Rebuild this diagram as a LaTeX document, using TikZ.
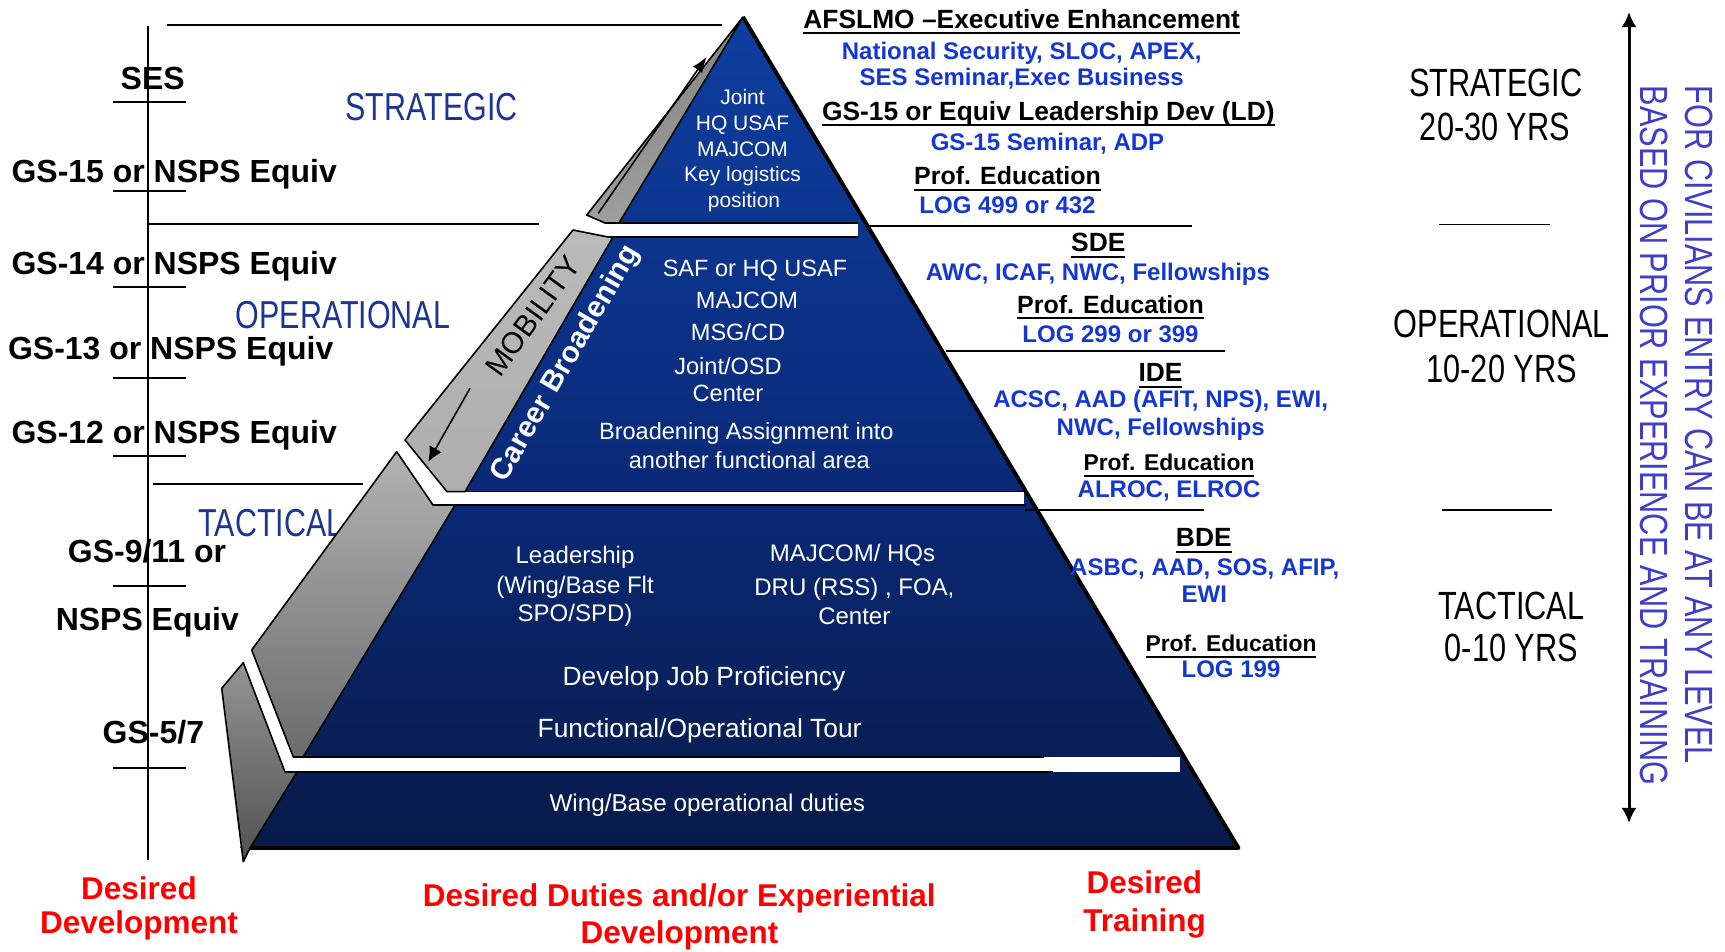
\documentclass[tikz,border=0pt]{standalone}
\usepackage{fontspec}
\setmainfont{Liberation Sans}
\newfontfamily\narrowfont[FakeStretch=0.78]{Liberation Sans}
\usetikzlibrary{arrows.meta}

\definecolor{pyrtop}{RGB}{14,62,160}
\definecolor{pyrmid}{RGB}{10,44,125}
\definecolor{pyrbot}{RGB}{8,26,74}
\definecolor{levelblue}{RGB}{28,52,146}
\definecolor{courseblue}{RGB}{20,55,210}
\definecolor{entryblue}{RGB}{62,62,200}
\definecolor{desiredred}{RGB}{255,0,0}

% underlined course headings
\newsavebox{\headbox}
\newcommand{\headrule}[1]{\sbox\headbox{#1}\rlap{\rule[-1.7pt]{\wd\headbox}{0.55pt}}\usebox\headbox}

\begin{document}
\begin{tikzpicture}[x=0.1mm, y=-0.1mm,
    rule/.style={line width=0.55pt},
    tierline/.style={line width=0.45pt},
    sideface/.style={draw=black, line width=0.45pt, line join=round},
    grade/.style={anchor=base, inner sep=0pt,
      font=\fontsize{9.1}{11}\selectfont\bfseries},
    level/.style={anchor=base, inner sep=0pt, text=levelblue,
      font=\narrowfont\fontsize{11.1}{13}\selectfont},
    span/.style={anchor=base, inner sep=0pt,
      font=\narrowfont\fontsize{11.2}{13}\selectfont},
    duty/.style={anchor=base, inner sep=0pt, text=white,
      font=\fontsize{#1}{10}\selectfont},
    course/.style={anchor=base, inner sep=0pt, text=courseblue,
      font=\fontsize{6.83}{8}\selectfont\bfseries},
    coursehead/.style={anchor=base, inner sep=0pt,
      font=\fontsize{#1}{9}\selectfont\bfseries},
    coursehead/.default=7.5,
    desired/.style={anchor=base, inner sep=0pt, text=desiredred,
      font=\fontsize{8.96}{11}\selectfont\bfseries}]

    \path [use as bounding box] (0,0) rectangle (1725,952);

    % grade scale on the left
    \draw[rule] (148,26) -- (148,860);
    \draw[rule] (167,25) -- (722,25);
    \draw[rule] (148,224.3) -- (539,224.3);
    \draw[rule] (153,484) -- (362.8,484);
    \draw[rule] (113,102.3) -- (186,102.3);
    \draw[rule] (113,190.7) -- (186,190.7);
    \draw[rule] (113,286.7) -- (186,286.7);
    \draw[rule] (113,378.3) -- (186,378.3);
    \draw[rule] (113,455.7) -- (186,455.7);
    \draw[rule] (113,585.7) -- (186,585.7);
    \draw[rule] (113,768.3) -- (186,768.3);

    \node[name=ses, grade] at (152.7,90) {SES};
    \node[name=gs15, grade] at (174.2,182.7) {GS-15 or NSPS Equiv};
    \node[name=gs14, grade] at (174.2,274) {GS-14 or NSPS Equiv};
    \node[name=gs13, grade] at (170.7,359) {GS-13 or NSPS Equiv};
    \node[name=gs12, grade] at (174.2,443.3) {GS-12 or NSPS Equiv};
    \node[name=gs9, grade] at (147,562.7) {GS-9/11 or};
    \node[name=gs9nsps, grade] at (147.3,630) {NSPS Equiv};
    \node[name=gs5, grade] at (153.4,743.3) {GS-5/7};

    \node[name=lvlstrat, level] at (431.5,120) {STRATEGIC};
    \node[name=lvlops, level] at (343,328.3) {OPERATIONAL};
    \node[name=lvltac, level] at (271,536) {TACTICAL};

    % pyramid body
    \shade[top color=pyrtop, bottom color=pyrbot, middle color=pyrmid]
      (743,17) -- (1238.5,848) -- (240,848) -- cycle;

    % gaps between the tiers
    \fill[white] (600,223) rectangle (858,237);
    \fill[white] (440,491.7) rectangle (1024,505);
    \fill[white] (285,757) rectangle (1180,772);
    \draw[tierline] (605,223) -- (858,223);
    \draw[tierline] (608,237) -- (858,237);
    \draw[tierline] (447,491.7) -- (1024,491.7);
    \draw[tierline] (433,505) -- (1026,505);
    \draw[tierline] (293.3,757) -- (1044,757);
    \draw[tierline] (285,772) -- (1053,772);

    % side faces
    \shadedraw[sideface, top color=black!48, bottom color=black!38]
      (743,17) -- (586.7,215) -- (605,223) -- (619,223) -- cycle;
    \shadedraw[sideface, top color=black!27, bottom color=black!32]
      (573,230) -- (608,237) -- (613,237) -- (465,491.7)
      -- (447,491.7) -- (405,440) -- cycle;
    \shadedraw[sideface, top color=black!30, bottom color=black!58]
      (396.7,451.7) -- (433,505) -- (455,505) -- (303,757)
      -- (293.3,757) -- (251.7,650) -- cycle;
    \shadedraw[sideface, top color=black!42, bottom color=black!68]
      (243.3,662.7) -- (285,772) -- (297,772) -- (250,848)
      -- (243.3,861.7) -- (221.7,688.3) -- cycle;

    \draw[line width=1.1pt, line join=round] (743,17) -- (1238.5,848) -- (250,848);

    % mobility arrows
    \coordinate (riselow) at (598.3,213.3);
    \coordinate (risehigh) at (706.7,56.7);
    \coordinate (dropstart) at (470,388.3);
    \coordinate (dropend) at (428.3,461.7);
    \draw[line width=0.45pt, -{Latex[length=4.5pt,width=3.2pt]}] (riselow) -- (risehigh);
    \draw[line width=0.45pt, -{Latex[length=4.2pt,width=4pt]}] (dropstart) -- (dropend);

    \node[name=mobility, rotate=54, inner sep=0pt,
      font=\fontsize{8.5}{10}\selectfont] at (533,316) {MOBILITY};
    \node[name=career, rotate=60, inner sep=0pt, text=white,
      font=\fontsize{8.45}{10}\selectfont\bfseries] at (566,364) {Career Broadening};

    % duties in each tier
    \node[name=topjoint, duty=5.97] at (742.5,105) {Joint};
    \node[name=tophq, duty=5.97] at (742.5,130.7) {HQ USAF};
    \node[name=topmaj, duty=5.97] at (742.5,156) {MAJCOM};
    \node[name=topkey, duty=5.97] at (742.5,181.7) {Key logistics};
    \node[name=toppos, duty=5.97] at (744,207.3) {position};

    \node[name=opsaf, duty=6.7] at (755,276) {SAF or HQ USAF};
    \node[name=opmaj, duty=6.7] at (747,308.3) {MAJCOM};
    \node[name=opmsg, duty=6.7] at (738,340) {MSG/CD};
    \node[name=opjoint, duty=6.7] at (728,374.3) {Joint/OSD};
    \node[name=opcenter, duty=6.7] at (728,401.7) {Center};
    \node[name=opbroad, duty=6.7] at (746.3,439.3) {Broadening Assignment into};
    \node[name=opother, duty=6.7] at (749.3,468.3) {another functional area};

    \node[name=taclead, duty=6.83] at (575,563.3) {Leadership};
    \node[name=tacwing, duty=6.83] at (575,593.3) {(Wing/Base Flt};
    \node[name=tacspo, duty=6.83] at (575,621.7) {SPO/SPD)};
    \node[name=tacmaj, duty=6.83] at (852.5,561.7) {MAJCOM/ HQs};
    \node[name=tacdru, duty=6.83] at (854.4,595) {DRU (RSS) , FOA,};
    \node[name=taccenter, duty=6.83] at (854.3,624) {Center};
    \node[name=tacjob, duty=7.5] at (704,685) {Develop Job Proficiency};
    \node[name=tactour, duty=7.5] at (699.6,737.3) {Functional/Operational Tour};
    \node[name=basewing, duty=6.9] at (707.3,811.7) {Wing/Base operational duties};

    % training column
    \draw[rule] (868,226) -- (1192,226);
    \draw[rule] (946,351) -- (1225,351);
    \draw[rule] (1025,510) -- (1204,510);

    \node[name=afslmo, coursehead] at (1021.7,28.3) {\headrule{AFSLMO –Executive Enhancement}};
    \node[name=natsec, course] at (1021.7,59.3) {National Security, SLOC, APEX,};
    \node[name=sessem, course] at (1021.7,86) {SES Seminar,Exec Business};
    \node[name=ldhead, coursehead] at (1048.3,120) {\headrule{GS-15 or Equiv Leadership Dev (LD)}};
    \node[name=gssem, course] at (1047.5,150) {GS-15 Seminar, ADP};
    \node[name=profa, coursehead=7.1] at (1007.5,185) {\headrule{Prof. Education}};
    \node[name=loga, course] at (1007.5,213.3) {LOG 499 or 432};
    \node[name=sde, coursehead] at (1098.3,251.7) {\headrule{SDE}};
    \node[name=sdelist, course] at (1097.9,280) {AWC, ICAF, NWC, Fellowships};
    \node[name=profb, coursehead=7.1] at (1110.5,313.3) {\headrule{Prof. Education}};
    \node[name=logb, course] at (1110.5,342.7) {LOG 299 or 399};
    \node[name=ide, coursehead] at (1160.5,381.7) {\headrule{IDE}};
    \node[name=idelist, course] at (1160.6,407.3) {ACSC, AAD (AFIT, NPS), EWI,};
    \node[name=idemore, course] at (1160.7,435) {NWC, Fellowships};
    \node[name=profc, coursehead=6.5] at (1169,470.7) {\headrule{Prof. Education}};
    \node[name=alroc, course] at (1169,497.7) {ALROC, ELROC};
    \node[name=bde, coursehead] at (1203.8,546.7) {\headrule{BDE}};
    \node[name=bdelist, course] at (1204.7,575) {ASBC, AAD, SOS, AFIP,};
    \node[name=bdemore, course] at (1204.3,602.7) {EWI};
    \node[name=profd, coursehead=6.5] at (1231,651.7) {\headrule{Prof. Education}};
    \node[name=logc, course] at (1231,677.3) {LOG 199};

    % career spans
    \node[name=spanstrat, span] at (1495.8,97) {STRATEGIC};
    \node[name=spanstratyrs, span] at (1495,141) {20-30 YRS};
    \draw[tierline] (1439,224.7) -- (1550,224.7);
    \node[name=spanops, span] at (1501.7,337.6) {OPERATIONAL};
    \node[name=spanopsyrs, span] at (1501.7,382.5) {10-20 YRS};
    \draw[tierline] (1441.7,510) -- (1551.7,510);
    \node[name=spantac, span] at (1511.3,619.3) {TACTICAL};
    \node[name=spantacyrs, span] at (1511.3,661.8) {0-10 YRS};

    \coordinate (entrytop) at (1629,12);
    \coordinate (entrybot) at (1629,823);
    \draw[line width=0.85pt,
      {Latex[length=4.3pt,width=4.3pt]}-{Latex[length=4.3pt,width=4.3pt]}]
      (entrytop) -- (entrybot);

    \node[name=entryfor, rotate=-90, anchor=base west, inner sep=0pt, text=entryblue,
      font=\narrowfont\fontsize{11.2}{13}\selectfont] at (1685,85)
      {FOR CIVILIANS ENTRY CAN BE AT ANY LEVEL};
    \node[name=entrybased, rotate=-90, anchor=base west, inner sep=0pt, text=entryblue,
      font=\narrowfont\fontsize{11.2}{13}\selectfont] at (1640,85)
      {BASED ON PRIOR EXPERIENCE AND TRAINING};

    % column captions
    \node[name=devdesired, desired] at (139,899.3) {Desired};
    \node[name=devword, desired] at (139,933.3) {Development};
    \node[name=dutydesired, desired] at (679.2,906.7) {Desired Duties and/or Experiential};
    \node[name=dutyword, desired] at (679.5,943.3) {Development};
    \node[name=traindesired, desired] at (1144.4,893.3) {Desired};
    \node[name=trainword, desired] at (1144.7,931.7) {Training};
\end{tikzpicture}
\end{document}
